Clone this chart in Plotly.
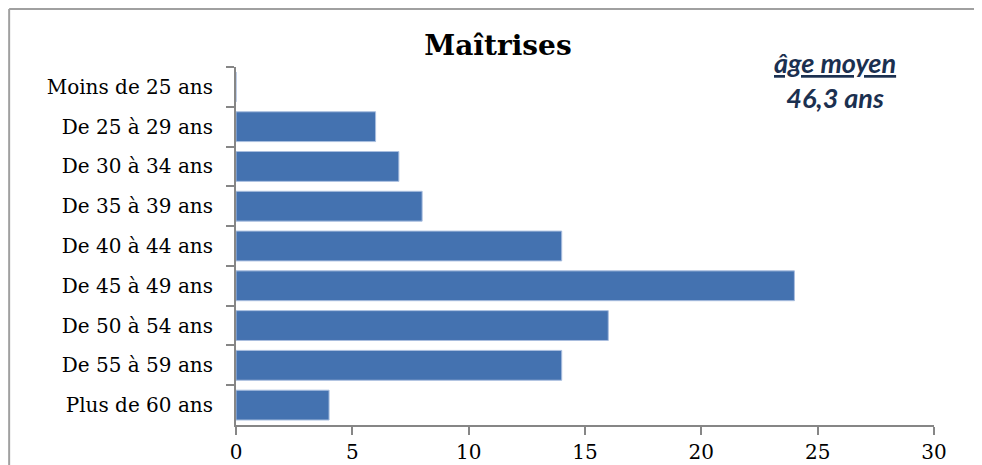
import plotly.graph_objects as go

categories = ["Moins de 25 ans", "De 25 à 29 ans", "De 30 à 34 ans", "De 35 à 39 ans",
              "De 40 à 44 ans", "De 45 à 49 ans", "De 50 à 54 ans", "De 55 à 59 ans",
              "Plus de 60 ans"]
values = [0, 6, 7, 8, 14, 24, 16, 14, 4]
x_ticks = [0, 5, 10, 15, 20, 25, 30]

serif = "DejaVu Serif"
axis_grey = "#868686"

fig = go.Figure()
fig.add_trace(go.Bar(
    x=values,
    y=categories,
    orientation="h",
    marker=dict(color="#4472B0", line=dict(color="#A9BEDF", width=1)),
))

# the page keeps an 8px body margin, so the figure sits at (8, 8)
fig.update_layout(
    width=974, height=457,
    margin=dict(l=228, r=48, t=59, b=40),
    plot_bgcolor="white", paper_bgcolor="white",
    showlegend=False,
    bargap=0.25,
    title=dict(text="<b>Maîtrises</b>", x=0.503, xanchor="center", y=0.919, yanchor="middle",
               font=dict(family=serif, size=28, color="black")),
    xaxis=dict(range=[0, 30], tickvals=x_ticks, showgrid=False, zeroline=False,
               showline=True, linecolor=axis_grey, linewidth=2,
               ticks="outside", ticklen=8, tickcolor=axis_grey, tickwidth=2,
               automargin=False,
               tickfont=dict(family=serif, size=20, color="black")),
    yaxis=dict(categoryorder="array", categoryarray=categories, autorange="reversed",
               showgrid=False, zeroline=False,
               showline=True, linecolor=axis_grey, linewidth=2,
               ticks="outside", ticklen=8, tickcolor=axis_grey, tickwidth=2,
               tickson="boundaries", ticklabelstandoff=17, automargin=False,
               tickfont=dict(family=serif, size=20, color="black")),
)

fig.add_annotation(xref="paper", yref="paper", x=0.858, y=0.964, xanchor="center", yanchor="middle",
                   text="<b><i><u>âge moyen</u></i></b><br><b><i>46,3 ans</i></b>",
                   showarrow=False, align="center",
                   font=dict(family="Lato", size=27, color="#1B3050"))

# chart frame (top and left edges)
fig.add_shape(type="line", xref="paper", yref="paper", x0=-0.325, x1=1.1, y0=1.162, y1=1.162,
              line=dict(color="#A0A0A0", width=2))
fig.add_shape(type="line", xref="paper", yref="paper", x0=-0.325, x1=-0.325, y0=1.162, y1=-0.2,
              line=dict(color="#A0A0A0", width=2))

fig.write_html("out.html")
